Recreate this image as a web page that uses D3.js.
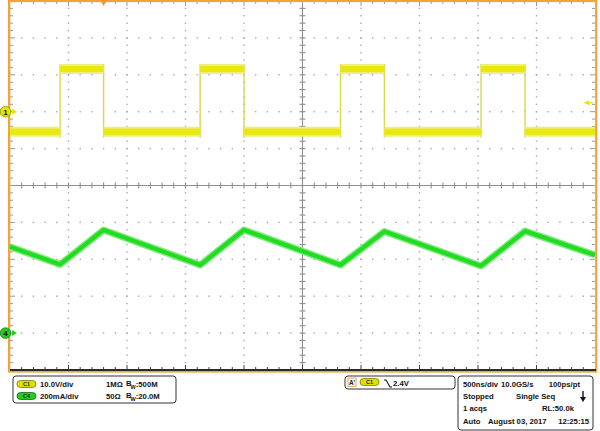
<!DOCTYPE html>
<html>
<head>
<meta charset="utf-8">
<script src="https://cdn.jsdelivr.net/npm/d3@7"></script>
<style>
  body { margin: 0; background: #fff; }
  text { font-family: "Liberation Sans", Arial, sans-serif; font-weight: bold; }
</style>
</head>
<body>
<div id="scope"></div>
<script>
const width = 600;
const height = 431;

// channel 1 (gate voltage) square wave
const c1Rise = [-372, 825, 2025, 3226];      // ns
const c1Fall = [0, 1200, 2400, 3602];        // ns
const c1Levels = [-5.4, 11.6];               // V: low, high

// channel 4 (current) triangle corners
const c4Times = [-800, -372, 0, 825, 1200, 2025, 2400, 3226, 3602, 4200];   // ns
const c4Values = [468, 372, 559, 369, 559, 369, 551, 364, 553, 423];        // mA

const timeDomain = [-800, 4200];
const c1Domain = [-70, 30];      // 10 V/div, position +2 div
const c4Domain = [-200, 1800];   // 200 mA/div, position -4 div
const trigLevel = 2.4;

const gLeft = 10, gRight = 595, gTop = 1, gBottom = 370;

const svg = d3.select("#scope").append("svg").attr("width", width).attr("height", height)

const xDiv = d3.scaleLinear().domain([0, 10]).range([gLeft, gRight])
const yDiv = d3.scaleLinear().domain([0, 10]).range([gTop, gBottom])
const xScale = d3.scaleLinear().domain(timeDomain).range([gLeft, gRight])
const y1 = d3.scaleLinear().domain(c1Domain).range([gBottom, gTop])
const y4 = d3.scaleLinear().domain(c4Domain).range([gBottom, gTop])

const minor = d3.range(1, 50).map(d => d / 5)
const majors = d3.range(1, 10).filter(d => d !== 5)

// graticule dots
const grid = svg.append("g").attr("fill", "#a8a8a8")
majors.forEach(j => {
  grid.selectAll(null).data(minor).enter().append("rect")
      .attr("x", d => xDiv(d) - 0.7).attr("y", yDiv(j) - 0.7)
      .attr("width", 1.4).attr("height", 1.4)
  grid.selectAll(null).data(minor).enter().append("rect")
      .attr("x", xDiv(j) - 0.7).attr("y", d => yDiv(d) - 0.7)
      .attr("width", 1.4).attr("height", 1.4)
})

// centre lines with ticks
const cl = svg.append("g").attr("stroke", "#8f8f8f").attr("stroke-width", 1.1)
cl.append("line").attr("x1", gLeft).attr("x2", gRight).attr("y1", yDiv(5)).attr("y2", yDiv(5))
cl.append("line").attr("x1", xDiv(5)).attr("x2", xDiv(5)).attr("y1", gTop).attr("y2", gBottom)
cl.selectAll(null).data(minor).enter().append("line")
  .attr("x1", d => xDiv(d)).attr("x2", d => xDiv(d))
  .attr("y1", yDiv(5) - 3).attr("y2", yDiv(5) + 3)
cl.selectAll(null).data(minor).enter().append("line")
  .attr("y1", d => yDiv(d)).attr("y2", d => yDiv(d))
  .attr("x1", xDiv(5) - 3).attr("x2", xDiv(5) + 3)

// edge ticks
const et = svg.append("g").attr("stroke", "#999").attr("stroke-width", 1)
const tl = d => (Number.isInteger(d) ? 5 : 3)
et.selectAll(null).data(minor).enter().append("line")
  .attr("x1", gLeft).attr("x2", d => gLeft + tl(d)).attr("y1", d => yDiv(d)).attr("y2", d => yDiv(d))
et.selectAll(null).data(minor).enter().append("line")
  .attr("x1", gRight).attr("x2", d => gRight - tl(d)).attr("y1", d => yDiv(d)).attr("y2", d => yDiv(d))
et.selectAll(null).data(minor).enter().append("line")
  .attr("y1", gTop).attr("y2", d => gTop + tl(d)).attr("x1", d => xDiv(d)).attr("x2", d => xDiv(d))
et.selectAll(null).data(minor).enter().append("line")
  .attr("stroke", "#444")
  .attr("y1", gBottom).attr("y2", d => gBottom - tl(d)).attr("x1", d => xDiv(d)).attr("x2", d => xDiv(d))

// frame
svg.append("rect").attr("x", 9.2).attr("y", 1).attr("width", 587).attr("height", 370.5)
   .attr("fill", "none").attr("stroke", "#eea43a").attr("stroke-width", 2.2)
svg.append("line").attr("x1", 8.6).attr("x2", 8.6).attr("y1", 0).attr("y2", 372)
   .attr("stroke", "#eea43a").attr("stroke-width", 1.2)
svg.append("line").attr("x1", gLeft).attr("x2", gRight + 1).attr("y1", gBottom).attr("y2", gBottom)
   .attr("stroke", "#2b2b2b").attr("stroke-width", 2)

// channel 1 trace
const lowSegs = [[timeDomain[0], c1Rise[0]]]
c1Fall.forEach((f, i) => lowSegs.push([f, i + 1 < c1Rise.length ? c1Rise[i + 1] : timeDomain[1]]))
const highSegs = c1Rise.map((r, i) => [r, c1Fall[i]])

const c1 = svg.append("g")
c1Rise.concat(c1Fall).forEach(t => {
  c1.append("line").attr("x1", xScale(t)).attr("x2", xScale(t))
    .attr("y1", y1(c1Levels[0]) + 6).attr("y2", y1(c1Levels[1]) - 5)
    .attr("stroke", "#d8d850").attr("stroke-width", 1.4)
})
const segs = lowSegs.map(s => ({ s, v: c1Levels[0] })).concat(highSegs.map(s => ({ s, v: c1Levels[1] })))
c1.selectAll(null).data(segs).enter().append("line")
  .attr("x1", d => xScale(d.s[0])).attr("x2", d => xScale(d.s[1]))
  .attr("y1", d => y1(d.v)).attr("y2", d => y1(d.v))
  .attr("stroke", "#eeee80").attr("stroke-width", 10)
c1.selectAll(null).data(segs).enter().append("line")
  .attr("x1", d => xScale(d.s[0])).attr("x2", d => xScale(d.s[1]))
  .attr("y1", d => y1(d.v)).attr("y2", d => y1(d.v))
  .attr("stroke", "#e8e80a").attr("stroke-width", 6)

// channel 4 trace
const c4Line = d3.line().x(d => xScale(d[0])).y(d => y4(d[1]))
const c4Pts = c4Times.map((t, i) => [t, c4Values[i]])
svg.append("path").attr("d", c4Line(c4Pts)).attr("fill", "none")
   .attr("stroke", "#80ea80").attr("stroke-width", 7).attr("stroke-linejoin", "round")
svg.append("path").attr("d", c4Line(c4Pts)).attr("fill", "none")
   .attr("stroke", "#22dc22").attr("stroke-width", 4.2).attr("stroke-linejoin", "round")

// markers: trigger position, trigger level, channel grounds
const tx = xScale(0)
svg.append("path").attr("d", `M${tx - 3.5},0 L${tx + 3.5},0 L${tx},6 Z`).attr("fill", "#f29a1a")
const ty = y1(trigLevel)
svg.append("path").attr("d", `M${gRight - 11},${ty} L${gRight - 6},${ty - 2.5} L${gRight - 6},${ty + 2.5} Z`).attr("fill", "#e4e400")
svg.append("line").attr("x1", gRight - 6).attr("x2", gRight - 2).attr("y1", ty).attr("y2", ty)
   .attr("stroke", "#e4e400").attr("stroke-width", 1.2)

function chMarker(y, label, fill, edge) {
  svg.append("path").attr("d", `M17,${y} L12,${y - 3} L12,${y + 3} Z`).attr("fill", fill)
  svg.append("circle").attr("cx", 5.5).attr("cy", y).attr("r", 5.3)
     .attr("fill", fill).attr("stroke", edge).attr("stroke-width", 0.8)
  svg.append("text").attr("x", 5.5).attr("y", y + 3).attr("text-anchor", "middle")
     .attr("font-size", 8).attr("fill", "#111").text(label)
}
chMarker(y1(0), "1", "#e6e600", "#8c8c00")
chMarker(y4(0), "4", "#22cc22", "#137a13")

// info panels
const fs = 7.7
function panel(x, y, w, h) {
  svg.append("rect").attr("x", x).attr("y", y).attr("width", w).attr("height", h)
     .attr("rx", 3).attr("fill", "#fff").attr("stroke", "#333").attr("stroke-width", 1)
}
function pill(x, y, label, fill, edge) {
  svg.append("rect").attr("x", x).attr("y", y).attr("width", 19).attr("height", 7)
     .attr("rx", 3.5).attr("fill", fill).attr("stroke", edge).attr("stroke-width", 0.8)
  svg.append("text").attr("x", x + 9.5).attr("y", y + 5.6).attr("text-anchor", "middle")
     .attr("font-size", 5.5).attr("fill", "#222").text(label)
}
function label(x, y, s, anchor) {
  return svg.append("text").attr("x", x).attr("y", y).attr("font-size", fs)
            .attr("text-anchor", anchor || "start").attr("fill", "#111").text(s)
}
function bw(x, y, s) {
  const t = label(x, y, "")
  t.append("tspan").attr("dy", -1.5).text("B")
  t.append("tspan").attr("font-size", 5.5).attr("dy", 3).attr("dx", -1).text("W")
  t.append("tspan").attr("dy", -1.5).text(s)
}

panel(13, 376, 163, 27)
pill(17, 380.5, "C1", "#e0e000", "#7a7a00")
pill(17, 392.5, "C4", "#25cc25", "#127012")
label(40, 387, "10.0V/div")
label(40, 399, "200mA/div")
label(106, 387, "1M\u03a9")
label(106, 399, "50\u03a9")
bw(126, 387, ":500M")
bw(126, 399, ":20.0M")

panel(345, 376, 110, 13)
svg.append("rect").attr("x", 348).attr("y", 378).attr("width", 8).attr("height", 8.5)
   .attr("fill", "#f6f6f6").attr("stroke", "#e8a040").attr("stroke-width", 0.9)
svg.append("text").attr("x", 352).attr("y", 385).attr("text-anchor", "middle")
   .attr("font-size", 6.5).attr("fill", "#222").text("A'")
pill(360, 378.5, "C1", "#e0e000", "#7a7a00")
svg.append("path").attr("d", "M384,380 L386,380 L390,387 L392,387").attr("fill", "none")
   .attr("stroke", "#111").attr("stroke-width", 1.1)
label(393, 386, "2.4V")

panel(458, 376, 135, 54)
label(463, 387, "500ns/div")
label(501, 387, "10.0GS/s")
label(580, 387, "100ps/pt", "end")
label(463, 399, "Stopped")
label(516, 399, "Single Seq")
svg.append("line").attr("x1", 583).attr("x2", 583).attr("y1", 391).attr("y2", 398)
   .attr("stroke", "#111").attr("stroke-width", 1.4)
svg.append("path").attr("d", "M580,397 L586,397 L583,402 Z").attr("fill", "#111")
label(463, 411, "1 acqs")
label(574, 411, "RL:50.0k", "end")
label(463, 424, "Auto")
label(488, 424, "August 03, 2017")
label(589, 424, "12:25:15", "end")
</script>
</body>
</html>
